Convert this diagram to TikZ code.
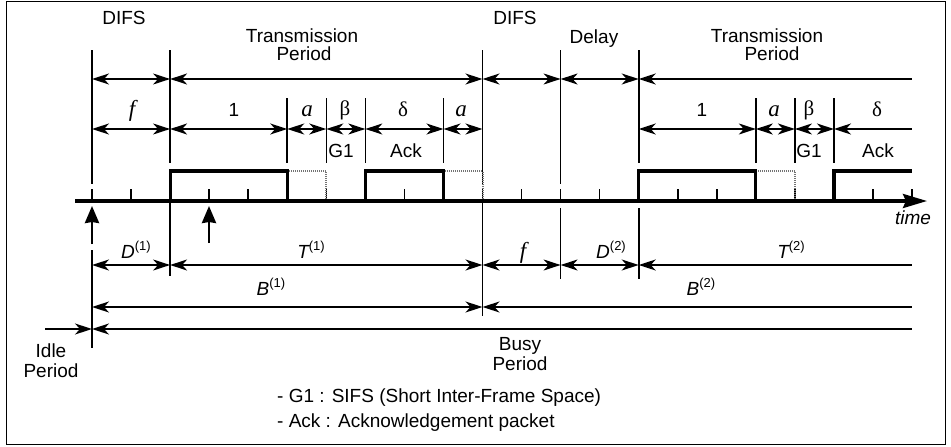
\documentclass[tikz,border=0pt]{standalone}
\usepackage{fontspec}
\setmainfont{Liberation Sans}
\newfontfamily\tnr{Liberation Serif}
\usetikzlibrary{arrows.meta}
\newcommand\myexp[1]{\raisebox{0.42em}{\fontsize{13}{13}\selectfont(#1)}}
\begin{document}
\begin{tikzpicture}[x=1pt,y=-1pt,
  >={Stealth[length=17pt,width=11pt,inset=5pt]},
  ln/.style={line width=1.6pt},
  both/.style={ln,<->},
  lft/.style={ln,<-},
  rgt/.style={ln,->},
  pkt/.style={line width=3.2pt,line join=miter},
  ghost/.style={line width=2pt,black!55,dash pattern=on 1pt off 1pt},
  tickmark/.style={line width=1.6pt},
  uparrow/.style={line width=2.8pt,-{Stealth[length=17pt,width=14pt,inset=1pt]}},
  lbl/.style={inner sep=0pt,anchor=base,font=\fontsize{19}{22}\selectfont},
  gr/.style={inner sep=0pt,anchor=base,font=\tnr\fontsize{21}{22}\selectfont},
  grit/.style={inner sep=0pt,anchor=base,font=\tnr\itshape\fontsize{23}{22}\selectfont},
]
\path[use as bounding box] (0,0) rectangle (951,447);
\draw[line width=1.6pt] (6.5,1.5) rectangle (945.5,444.5);

% grid columns and rows
\foreach \k in {0,...,21} \coordinate (c\k) at ({92+39.05*\k},0);
\coordinate (ytop) at (0,50);
\coordinate (r1) at (0,79);
\coordinate (ysh) at (0,98);
\coordinate (r2) at (0,129);
\coordinate (ybt) at (0,163);
\coordinate (bx) at (0,171);
\coordinate (ybt2) at (0,184);
\coordinate (tk) at (0,189);
\coordinate (base) at (0,201);
\coordinate (rD) at (0,265);
\coordinate (rB) at (0,307);
\coordinate (rI) at (0,329);

% vertical lines above the time axis
\draw[ln] (c0|-ytop) -- (c0|-ybt2);
\draw[ln] (c2|-ytop) -- (c2|-ybt);
\draw[ln] (c10|-ytop) -- (c10|-ybt2);
\draw[ln] (c12|-ytop) -- (c12|-ybt2);
\draw[ln] (c14|-ytop) -- (c14|-ybt);
\foreach \k in {5,6,7,9,17,18,19} \draw[ln] (c\k|-ysh) -- (c\k|-ybt);

% row 1
\draw[both] (c0|-r1) -- (c2|-r1);
\draw[both] (c2|-r1) -- (c10|-r1);
\draw[both] (c10|-r1) -- (c12|-r1);
\draw[both] (c12|-r1) -- (c14|-r1);
\draw[lft] (c14|-r1) -- (c21|-r1);
% row 2
\draw[both] (c0|-r2) -- (c2|-r2);
\draw[both] (c2|-r2) -- (c5|-r2);
\draw[both] (c5|-r2) -- (c6|-r2);
\draw[both] (c6|-r2) -- (c7|-r2);
\draw[both] (c7|-r2) -- (c9|-r2);
\draw[both] (c9|-r2) -- (c10|-r2);
\draw[both] (c14|-r2) -- (c17|-r2);
\draw[both] (c17|-r2) -- (c18|-r2);
\draw[both] (c18|-r2) -- (c19|-r2);
\draw[lft] (c19|-r2) -- (c21|-r2);

% ticks
\foreach \k in {0,...,21} \draw[tickmark] (c\k|-tk) -- (c\k|-base);

% packets
\draw[ghost] (c5|-bx) -- (c6|-bx) -- (c6|-base);
\draw[ghost] (c9|-bx) -- (c10|-bx) -- (c10|-base);
\draw[ghost] (c17|-bx) -- (c18|-bx) -- (c18|-base);
\draw[pkt] (c2|-base) -- (c2|-bx) -- (c5|-bx) -- (c5|-base);
\draw[pkt] (c7|-base) -- (c7|-bx) -- (c9|-bx) -- (c9|-base);
\draw[pkt] (c14|-base) -- (c14|-bx) -- (c17|-bx) -- (c17|-base);
\draw[pkt] (c19|-base) -- (c19|-bx) -- (c21|-bx);

% time axis
\coordinate (axS) at (75,201);
\coordinate (axE) at (927,201);
\draw[line width=3.2pt,-{Stealth[length=24pt,width=14pt,inset=3pt]}] (axS) -- (axE);
\node[inner sep=0pt,anchor=base,font=\itshape\fontsize{19}{22}\selectfont] (time) at (913,224) {time};

% arrival arrows
\coordinate (u1s) at (92,244);
\coordinate (u1e) at (92,206);
\coordinate (u2s) at (209,243);
\coordinate (u2e) at (209,206);
\draw[uparrow] (u1s) -- (u1e);
\draw[uparrow] (u2s) -- (u2e);

% vertical lines below the axis
\coordinate (l0a) at (92,250);
\coordinate (l0b) at (92,348);
\draw[ln] (l0a) -- (l0b);
\coordinate (l2b) at (0,276);
\draw[ln] (c2|-base) -- (c2|-l2b);
\coordinate (l10b) at (0,316);
\draw[ln] (c10|-base) -- (c10|-l10b);
\coordinate (lsa) at (0,208);
\coordinate (lsb) at (0,279);
\draw[ln] (c12|-lsa) -- (c12|-lsb);
\draw[ln] (c14|-lsa) -- (c14|-lsb);

% D/T row
\draw[both] (c0|-rD) -- (c2|-rD);
\draw[both] (c2|-rD) -- (c10|-rD);
\draw[both] (c10|-rD) -- (c12|-rD);
\draw[both] (c12|-rD) -- (c14|-rD);
\draw[lft] (c14|-rD) -- (c21|-rD);
% B row
\draw[both] (c0|-rB) -- (c10|-rB);
\draw[lft] (c10|-rB) -- (c21|-rB);
% idle / busy row
\coordinate (idleS) at (45,329);
\draw[rgt] (idleS) -- (c0|-rI);
\draw[lft] (c0|-rI) -- (c21|-rI);

% top labels
\node[lbl] (difs1) at (124,24) {DIFS};
\node[lbl] (tp1a) at (302,42) {Transmission};
\node[lbl] (tp1b) at (304,60) {Period};
\node[lbl] (difs2) at (515,24) {DIFS};
\node[lbl] (delay) at (594,43) {Delay};
\node[lbl] (tp2a) at (767,42) {Transmission};
\node[lbl] (tp2b) at (772,60) {Period};

% row 2 labels
\node[grit] (f1) at (132,116) {f};
\node[lbl] (one1) at (234,116) {1};
\node[grit] (a1) at (307,116) {a};
\node[gr] (b1) at (345,115) {β};
\node[gr] (d1) at (403,116) {δ};
\node[grit] (a2) at (461,116) {a};
\node[lbl] (g1a) at (341,157) {G1};
\node[lbl] (ack1) at (406,157) {Ack};
\node[lbl] (one2) at (702,116) {1};
\node[grit] (a3) at (774,116) {a};
\node[gr] (b2) at (809,115) {β};
\node[gr] (d2) at (877,116) {δ};
\node[lbl] (g1b) at (809,157) {G1};
\node[lbl] (ack2) at (878,157) {Ack};

% lower labels
\node[lbl] (D1) at (136,258) {\itshape D\upshape\myexp{1}};
\node[lbl] (T1) at (311,258) {\itshape T\upshape\myexp{1}};
\node[lbl] (B1) at (271,295) {\itshape B\upshape\myexp{1}};
\node[grit] (f2) at (523,258) {f};
\node[lbl] (D2) at (611,258) {\itshape D\upshape\myexp{2}};
\node[lbl] (T2) at (791,258) {\itshape T\upshape\myexp{2}};
\node[lbl] (B2) at (701,295) {\itshape B\upshape\myexp{2}};

\node[lbl] (idle1) at (51,357) {Idle};
\node[lbl] (idle2) at (51,377) {Period};
\node[lbl] (busy1) at (520,350) {Busy};
\node[lbl] (busy2) at (520,370) {Period};

% legend
\node[lbl,anchor=base west] (leg1) at (277,402) {- G1 : SIFS (Short Inter-Frame Space)};
\node[lbl,anchor=base west] (leg2) at (277,427) {- Ack : Acknowledgement packet};
\end{tikzpicture}
\end{document}
